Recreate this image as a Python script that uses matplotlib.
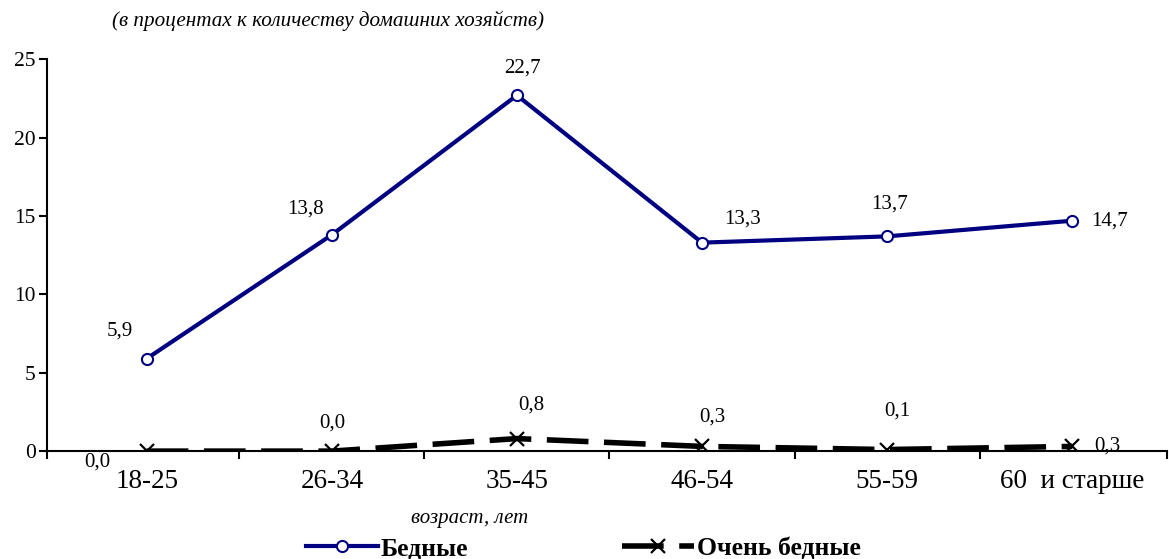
import matplotlib
matplotlib.use("Agg")
import matplotlib.pyplot as plt

categories = ["18-25", "26-34", "35-45", "46-54", "55-59", "60  и старше"]
poor = [5.9, 13.8, 22.7, 13.3, 13.7, 14.7]
very_poor = [0.0, 0.0, 0.8, 0.3, 0.1, 0.3]
poor_labels = ["5,9", "13,8", "22,7", "13,3", "13,7", "14,7"]
very_poor_labels = ["0,0", "0,0", "0,8", "0,3", "0,1", "0,3"]

plt.rcParams['font.family'] = ['Liberation Serif', 'DejaVu Serif']

fig = plt.figure(figsize=(11.69, 5.59), dpi=100)
ax = fig.add_axes([0.040, 0.193, 0.958, 0.701])

x = list(range(len(categories)))
ax.plot(x, poor, color='#000080', lw=3, marker='o', ms=8, mfc='white',
        mec='#000080', mew=1.5, label='Бедные', zorder=3)
ax.plot(x, very_poor, color='black', lw=4, dashes=(7.5, 2.8), marker='x', ms=10,
        mew=1.6, mec='black', label='Очень бедные', zorder=3)

x_lo, x_hi = -0.54, len(categories) - 0.49
ax.set_xlim(x_lo, x_hi)
ax.set_ylim(0, 25)
ax.set_yticks([0, 5, 10, 15, 20, 25])
ax.set_xticks(x)
ax.set_xticklabels(categories, fontsize=19.5)
ax.set_xticks([x_lo] + [i + 0.5 for i in range(len(categories) - 1)] + [x_hi], minor=True)
ax.tick_params(axis='x', which='major', length=0, pad=13)
ax.tick_params(axis='x', which='minor', length=6, width=1.5, direction='out')
ax.tick_params(axis='y', labelsize=15.5, length=6, width=1.5, direction='out', pad=2)
ax.spines['top'].set_visible(False)
ax.spines['right'].set_visible(False)
ax.spines['left'].set_linewidth(1.5)
ax.spines['bottom'].set_linewidth(1.5)

poor_off = [(-27, 28), (-26, 26), (6, 27), (41, 24), (2, 32), (37, 0)]
for i, (v, t) in enumerate(zip(poor, poor_labels)):
    dx, dy = poor_off[i]
    ax.annotate(t, (i, v), xytext=(dx, dy), textcoords='offset pixels',
                ha='center', va='center', fontsize=15)

vp_off = [(-49, -11), (0, 28), (14, 34), (10, 29), (10, 38), (35, 0)]
for i, (v, t) in enumerate(zip(very_poor, very_poor_labels)):
    dx, dy = vp_off[i]
    ax.annotate(t, (i, v), xytext=(dx, dy), textcoords='offset pixels',
                ha='center', va='center', fontsize=15)

fig.text(0.096, 0.962, "(в процентах к количеству домашних хозяйств)",
         fontsize=15.2, style='italic', va='center', ha='left')
fig.text(0.402, 0.073, "возраст, лет", fontsize=15, style='italic',
         va='center', ha='center')

leg = fig.legend(loc='center', bbox_to_anchor=(0.499, 0.018), ncol=2, frameon=False,
                 prop={'weight': 'bold', 'size': 18.5}, handlelength=2.8,
                 columnspacing=6.0, handletextpad=0.1)

fig.savefig("out.png", dpi=100)
